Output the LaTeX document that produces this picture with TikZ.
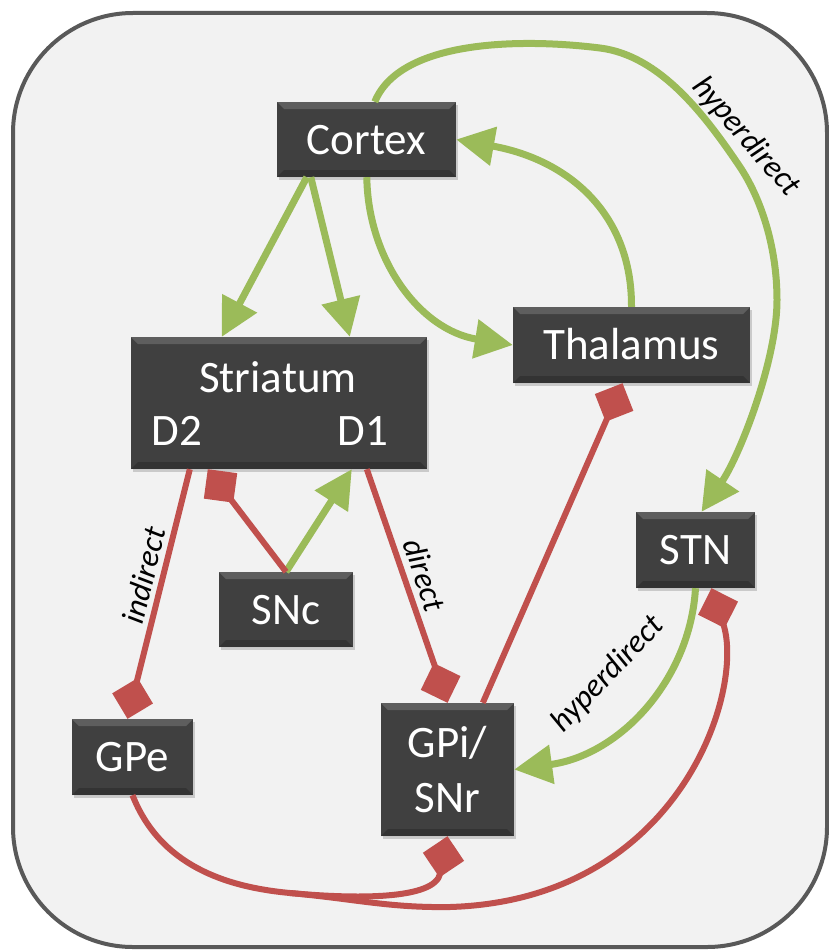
\documentclass[tikz,border=0pt]{standalone}
\usepackage{fontspec}
\setmainfont{Carlito}
\usetikzlibrary{arrows.meta,calc,shadows}
\definecolor{bgc}{HTML}{F2F2F2}
\definecolor{framec}{HTML}{595959}
\definecolor{boxc}{HTML}{404040}
\definecolor{excc}{HTML}{9BBB59}
\definecolor{inhc}{HTML}{C0504D}
\begin{document}
\begin{tikzpicture}[x=1pt,y=-1pt,
  region/.style={fill=boxc, draw=none, inner sep=0pt, text=white,
    font=\fontsize{45}{54}\selectfont, text height=29pt, text depth=0pt,
    drop shadow={shadow xshift=2pt,shadow yshift=-3pt,opacity=0.35},
    path picture={
      \fill[white,opacity=0.16] (path picture bounding box.north west) -- (path picture bounding box.north east)
        -- ([xshift=-7pt,yshift=-7pt]path picture bounding box.north east) -- ([xshift=7pt,yshift=-7pt]path picture bounding box.north west) -- cycle;
      \fill[black,opacity=0.2] (path picture bounding box.south west) -- (path picture bounding box.south east)
        -- ([xshift=-7pt,yshift=7pt]path picture bounding box.south east) -- ([xshift=7pt,yshift=7pt]path picture bounding box.south west) -- cycle;
    }},
  boxtext/.style={text=white, font=\fontsize{45}{54}\selectfont, inner sep=0pt, anchor=base},
  excite/.style={draw=excc, line width=7pt, -{Triangle[length=38pt,width=38pt]}},
  inhibit/.style={draw=inhc, line width=6pt, -{Diamond[length=42pt,width=42pt]}},
  inhline/.style={draw=inhc, line width=6pt},
  lbl/.style={font=\fontsize{32}{38}\selectfont\itshape, inner sep=0pt, text=black}]

\useasboundingbox (0,0) rectangle (829,950);
\draw[line width=4pt, draw=framec, fill=bgc, rounded corners=120pt] (13,13) rectangle (827,947);

% nodes
\node[region, minimum width=179pt, minimum height=75pt] (Cortex) at (366.5,139.5) {Cortex};
\node[region, minimum width=237pt, minimum height=76pt] (Thalamus) at (631.5,345) {Thalamus};
\node[region, minimum width=296pt, minimum height=132pt] (Striatum) at (279,403) {};
\node[boxtext] (StrText) at (278,392) {Striatum};
\node[boxtext] (D2) at (177,445) {D2};
\node[boxtext] (D1) at (363,445) {D1};
\node[region, minimum width=134pt, minimum height=75pt] (SNc) at (286,609.5) {SNc};
\node[region, minimum width=119pt, minimum height=76pt] (STN) at (695.5,550) {STN};
\node[region, minimum width=121pt, minimum height=76pt] (GPe) at (132.5,757) {GPe};
\node[region, minimum width=133pt, minimum height=133pt] (GPi) at (447.5,769.5) {};
\node[boxtext] (GPiA) at (447.5,757) {GPi/};
\node[boxtext] (GPiB) at (447.5,812) {SNr};

% excitatory connectors
\draw[excite] ($(Cortex.south west)+(30,0)$) -- ($(Striatum.north west)+(91,0)$);
\draw[excite] ($(Cortex.south west)+(34,0)$) -- ($(Striatum.north west)+(219,0)$);
\draw[excite] ($(Cortex.south west)+(90,0)$) .. controls (368,260) and (420,330) .. (Thalamus.west);
\draw[excite] (Thalamus.north) .. controls (632,215) and (570,160) .. (Cortex.east);
\draw[excite] ($(Cortex.north west)+(98,0)$) .. controls (400,40) and (520,38) .. (600,48)
   .. controls (660,55.5) and (705,115) .. (740,167)
   .. controls (760,197) and (777,245) .. (777,300)
   .. controls (777,360) and (740,455) .. ($(STN.north)+(6,0)$);
\draw[excite] (SNc.north) -- ($(Striatum.south west)+(221,0)$);
\draw[excite] (STN.south) .. controls (690,680) and (620,755) .. (GPi.east);

% inhibitory connectors
\draw[inhibit] (SNc.north) -- ($(Striatum.south west)+(77,0)$);
\draw[inhibit] ($(Striatum.south west)+(59,0)$) -- ($(GPe.north)+(-5,0)$);
\draw[inhibit] ($(Striatum.south west)+(236,0)$) -- (GPi.north);
\draw[inhibit] ($(GPi.north west)+(102,0)$) -- ($(Thalamus.south)+(-9,0)$);
\coordinate (split) at (290,893);
\draw[inhline] (GPe.south) .. controls (160,865) and (225,887) .. (split);
\draw[inhibit] (split) .. controls (355,899) and (435,900) .. (GPi.south);
\draw[inhibit] (split) .. controls (355,899) and (390,908) .. (450,907)
   .. controls (680,900) and (745,690) .. ($(STN.south)+(16,0)$);

% labels
\node[lbl, rotate=76] (lblInd) at (144,575) {indirect};
\node[lbl, rotate=-71.5] (lblDir) at (425,575) {direct};
\node[lbl, rotate=-49] (lblHypA) at (746,137) {hyperdirect};
\node[lbl, rotate=46.5] (lblHypB) at (608,674) {hyperdirect};
\end{tikzpicture}
\end{document}
